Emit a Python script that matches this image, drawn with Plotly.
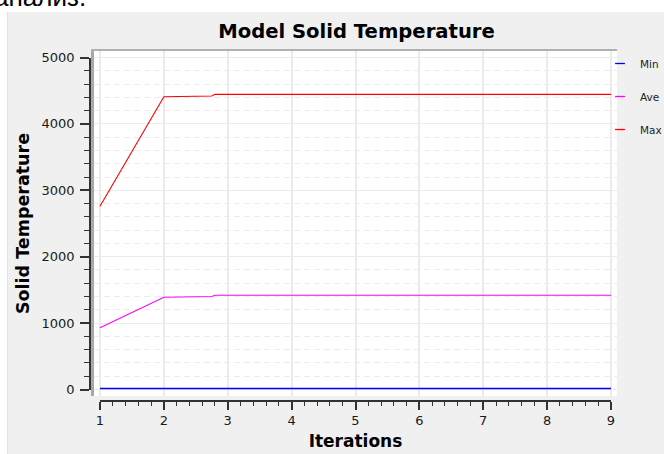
import plotly.graph_objects as go

# ---------------- data ----------------
iterations = [1, 2, 2.75, 2.8, 3, 4, 5, 6, 7, 8, 9]
t_min = [15, 15, 15, 15, 15, 15, 15, 15, 15, 15, 15]
t_ave = [931, 1389, 1400, 1419, 1420, 1420, 1420, 1420, 1420, 1420, 1420]
t_max = [2760, 4410, 4420, 4445, 4445, 4445, 4445, 4445, 4445, 4445, 4445]
series_names = ["Min", "Ave", "Max"]
series_colors = ["#0000ff", "#ff00ff", "#ff0000"]
x_ticks = [1, 2, 3, 4, 5, 6, 7, 8, 9]
y_ticks = [0, 1000, 2000, 3000, 4000, 5000]

# ---------------- layout geometry (pixels) ----------------
W, H = 664, 454
PL, PR, PT, PB = 90, 617, 51, 401          # paper area
WL, WR, WT, WB = 94, 617, 51, 396          # white plot panel
XL, XR = 100, 611                          # pixel of x=1 / x=9
Y0, Y5 = 389.5, 57.5                       # pixel of y=0 / y=5000
pw, ph = PR - PL, PB - PT

def fx(px):
    return (px - PL) / pw

def fy(py):
    return (PB - py) / ph

def xval(px):
    return x_ticks[0] + (px - XL) * (x_ticks[-1] - x_ticks[0]) / (XR - XL)

def yval(py):
    return y_ticks[0] + (Y0 - py) * (y_ticks[-1] - y_ticks[0]) / (Y0 - Y5)

fig = go.Figure()
for name, vals, col in zip(series_names, [t_min, t_ave, t_max], series_colors):
    fig.add_trace(go.Scatter(x=iterations, y=vals, mode="lines", name=name,
                             line=dict(color=col, width=1.3 if name == "Min" else 1.1),
                             showlegend=False, legendgroup=name))
# legend entries with short line glyphs
for name, col in zip(series_names, series_colors):
    fig.add_trace(go.Scatter(x=[None], y=[None], mode="markers", name=name,
                             marker=dict(symbol="line-ew", size=7,
                                         line=dict(color=col, width=1.3)),
                             legendgroup=name, showlegend=True))
# invisible trace binding the display axes
fig.add_trace(go.Scatter(x=[None], y=[None], xaxis="x2", yaxis="y2",
                         mode="markers", showlegend=False, hoverinfo="skip"))

tickfont = dict(family="DejaVu Sans", size=13, color="#1a1a1a")
fig.update_layout(
    width=W, height=H,
    margin=dict(l=PL, r=W - PR, t=PT, b=H - PB, autoexpand=False),
    paper_bgcolor="#f0f0f0", plot_bgcolor="rgba(0,0,0,0)",
    showlegend=True,
    title=dict(text="Model Solid Temperature", x=356.5 / W, xanchor="center",
               y=1 - 31 / H, yanchor="middle",
               font=dict(family="DejaVu Sans", size=19.6, color="#000000", weight="bold")),
    xaxis=dict(domain=[fx(WL), fx(WR)], range=[xval(WL), xval(WR)], side="top",
               showline=True, linecolor="#b0b0b0", linewidth=2,
               showticklabels=False, ticks="", tick0=1, dtick=1,
               showgrid=True, gridcolor="#ebebeb", gridwidth=1.5, zeroline=False,
               fixedrange=True),
    yaxis=dict(domain=[fy(WB), fy(WT)], range=[yval(WB), yval(WT)],
               showline=True, linecolor="#a8a8a8", linewidth=2.5,
               showticklabels=False, ticks="", tick0=0, dtick=1000,
               showgrid=True, gridcolor="#ebebeb", gridwidth=1, zeroline=False,
               minor=dict(dtick=200, tick0=0, showgrid=True, gridcolor="#ebebeb",
                          griddash="6px,4px", gridwidth=1),
               fixedrange=True),
    xaxis2=dict(domain=[fx(XL), fx(XR)], range=[x_ticks[0], x_ticks[-1]],
                anchor="free", position=0, showline=True, linecolor="#333333", linewidth=1.5,
                ticks="outside", ticklen=8, tickwidth=1.5, tickcolor="#333333",
                tickvals=x_ticks, tickfont=tickfont, showgrid=False, zeroline=False,
                minor=dict(dtick=0.2, tick0=1, ticks="outside", ticklen=4, tickwidth=1,
                           tickcolor="#333333", showgrid=False),
                title=dict(text="Iterations", standoff=7,
                           font=dict(family="DejaVu Sans", size=17, color="#000000", weight="bold")),
                fixedrange=True),
    yaxis2=dict(domain=[fy(Y0), fy(Y5)], range=[y_ticks[0], y_ticks[-1]],
                anchor="free", position=0, showline=True, linecolor="#333333", linewidth=1.5,
                ticks="outside", ticklen=9, tickwidth=1.5, tickcolor="#333333",
                tickvals=y_ticks, tickfont=tickfont, showgrid=False, zeroline=False,
                ticklabelstandoff=3,
                minor=dict(dtick=200, tick0=0, ticks="outside", ticklen=5, tickwidth=1,
                           tickcolor="#333333", showgrid=False),
                title=dict(text="Solid Temperature", standoff=6,
                           font=dict(family="DejaVu Sans", size=17.5, color="#000000", weight="bold")),
                fixedrange=True),
    legend=dict(x=fx(600), xanchor="left", y=fy(49), yanchor="top",
                bgcolor="rgba(0,0,0,0)", borderwidth=0,
                font=dict(family="DejaVu Sans", size=10.5, color="#222222"),
                traceorder="grouped", tracegroupgap=14, itemclick=False),
    shapes=[
        dict(type="rect", xref="paper", yref="paper", x0=fx(0), x1=fx(W), y0=fy(0), y1=fy(12),
             fillcolor="#ffffff", line=dict(width=0), layer="below"),
        dict(type="rect", xref="paper", yref="paper", x0=fx(0), x1=fx(7), y0=fy(0), y1=fy(H),
             fillcolor="#ffffff", line=dict(width=0), layer="below"),
        dict(type="line", xref="paper", yref="paper", x0=fx(7.5), x1=fx(7.5), y0=fy(12), y1=fy(H),
             line=dict(color="#e2e2e2", width=1), layer="below"),
        dict(type="rect", xref="paper", yref="paper", x0=fx(WL), x1=fx(WR), y0=fy(WB), y1=fy(WT),
             fillcolor="#ffffff", line=dict(width=0), layer="below"),
    ],
    annotations=[
        dict(text="анализ.", xref="paper", yref="paper", x=fx(-8), xanchor="left",
             y=fy(14), yanchor="bottom", showarrow=False,
             font=dict(family="Liberation Sans", size=26, color="#000000")),
    ],
)

fig.write_html("out.html")
